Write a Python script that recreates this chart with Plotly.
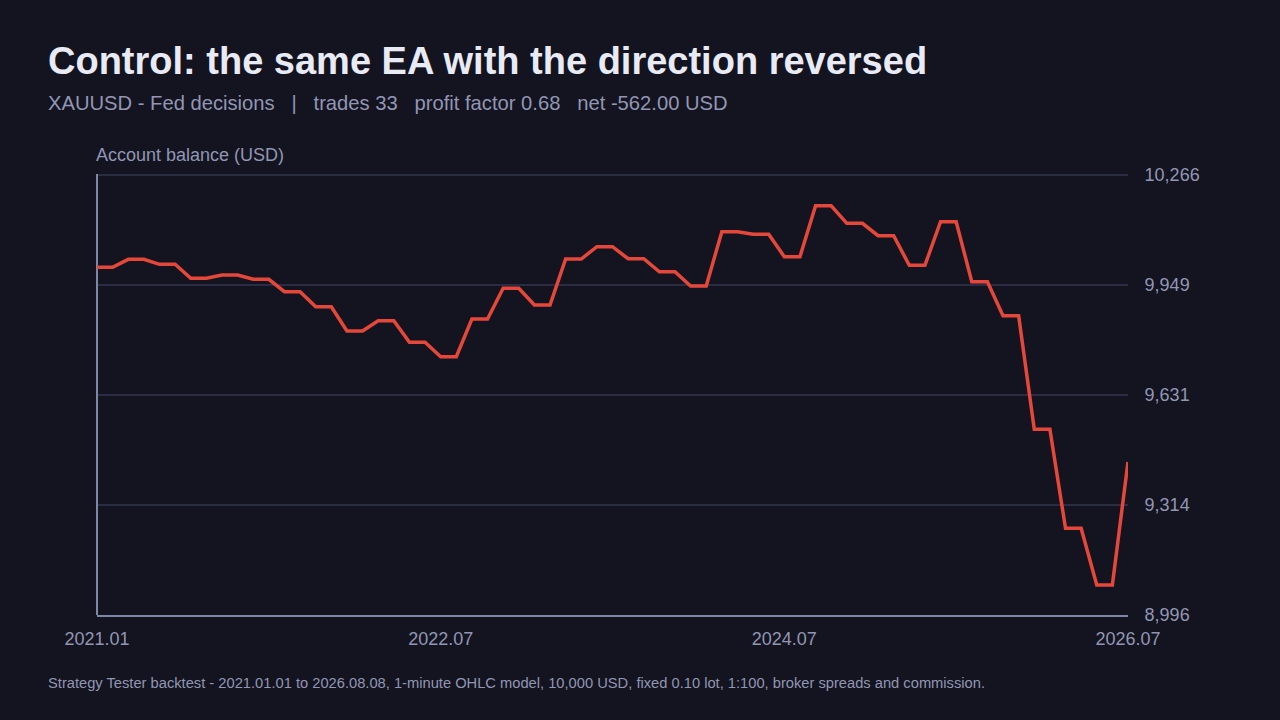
import plotly.graph_objects as go

# balance after each closed trade (start = 10,000 USD, 33 trades)
balance = [
    10000.0, 10022.7, 10008.3, 9967.9, 9977.4, 9965.0, 9929.2, 9885.9,
    9815.8, 9845.5, 9783.2, 9741.6, 9850.4, 9939.0, 9890.8, 10023.6,
    10059.1, 10024.4, 9986.9, 9945.6, 10102.4, 10094.9, 10030.2, 10177.4,
    10126.6, 10090.8, 10005.4, 10131.2, 9958.1, 9860.0, 9532.0, 9246.3,
    9082.7, 9438.0,
]
x_ticks = [0, 11, 22, 33]
x_tick_labels = ["2021.01", "2022.07", "2024.07", "2026.07"]
y_ticks = [8996, 9314, 9631, 9949, 10266]

BG = "#13141f"
TEXT = "#e8eaf6"
MUTED = "#9296b4"
GRID = "#2a2c44"
AXIS = "#7f86a6"
LINE = "#e5483a"

# each level is held flat for half a step, then moves to the next one
xs, ys = [], []
for i, b in enumerate(balance):
    xs.append(i)
    ys.append(b)
    if i < len(balance) - 1:
        xs.append(i + 0.5)
        ys.append(b)

fig = go.Figure()
fig.add_trace(go.Scatter(
    x=xs, y=ys, mode="lines",
    line=dict(color=LINE, width=3.5),
    hoverinfo="skip", showlegend=False,
))

fig.update_layout(
    width=1280, height=720,
    paper_bgcolor=BG, plot_bgcolor=BG,
    margin=dict(l=97, r=152, t=174, b=105),
    font=dict(family="Liberation Sans, Arial, sans-serif", color=MUTED, size=18),
    showlegend=False,
)

fig.update_xaxes(
    range=[0, 33],
    tickvals=x_ticks, ticktext=x_tick_labels,
    showgrid=False,
    showline=True, linecolor=AXIS, linewidth=2,
    zeroline=True, zerolinecolor=AXIS, zerolinewidth=2,
    ticks="outside", ticklen=6, tickcolor=BG,
    tickfont=dict(size=18, color=MUTED),
)
fig.update_yaxes(
    # a hair of headroom so the top gridline is still drawn
    range=[8996, 10269],
    tickvals=y_ticks, tickformat=",d",
    side="right",
    showgrid=True, gridcolor=GRID, gridwidth=2,
    showline=False, zeroline=False,
    ticks="outside", ticklen=12, tickcolor=BG,
    tickfont=dict(size=18, color=MUTED),
)

fig.add_annotation(
    text="<b>Control: the same EA with the direction reversed</b>",
    xref="paper", yref="paper", x=-0.0495, y=1.2568,
    xanchor="left", yanchor="middle", showarrow=False,
    font=dict(size=38, color=TEXT),
)
fig.add_annotation(
    text="XAUUSD - Fed decisions   |   trades 33   profit factor 0.68   net -562.00 USD",
    xref="paper", yref="paper", x=-0.0495, y=1.161,
    xanchor="left", yanchor="middle", showarrow=False,
    font=dict(size=20.2, color=MUTED),
)
fig.add_annotation(
    text="Account balance (USD)",
    xref="paper", yref="paper", x=-0.003, y=1.043,
    xanchor="left", yanchor="middle", showarrow=False,
    font=dict(size=18, color=MUTED),
)
fig.add_annotation(
    text="Strategy Tester backtest - 2021.01.01 to 2026.08.08, 1-minute OHLC model, "
         "10,000 USD, fixed 0.10 lot, 1:100, broker spreads and commission.",
    xref="paper", yref="paper", x=-0.0495, y=-0.1545,
    xanchor="left", yanchor="middle", showarrow=False,
    font=dict(size=14.7, color=MUTED),
)

fig.write_html(
    "out.html",
    config={"displayModeBar": False},
    post_script="document.body.style.margin='0';",
)
